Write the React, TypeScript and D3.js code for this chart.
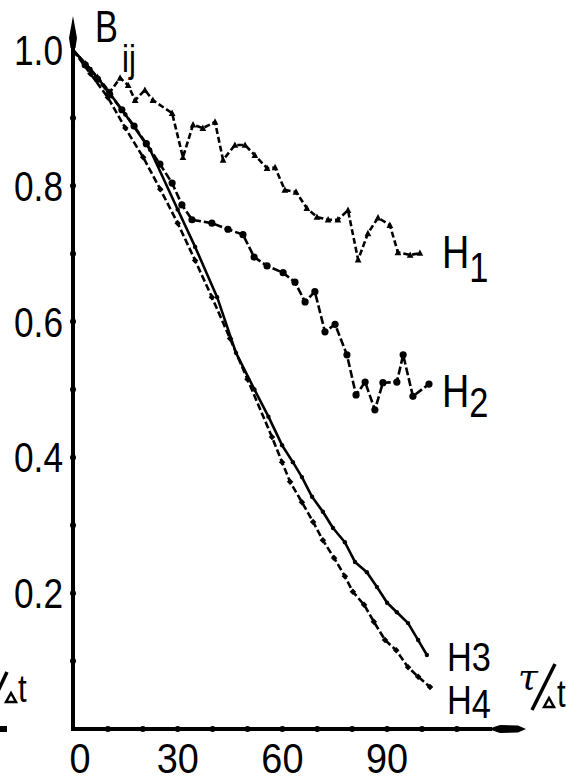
import React from 'react';
import * as d3 from 'd3';

// curve H1 (top, dashed, triangle marks)
const h1T = [0, 3.5, 7, 10.6, 13.5, 15.8, 17.8, 20.6, 22.9, 28.4, 31.5, 34.4, 37.2, 40.7, 43.0, 46.4, 49.3, 52.1, 55.6, 57.9, 60.7, 63.9, 67.0, 69.9, 73.1, 75.9, 78.8, 81.7, 84.5, 87.4, 90.8, 93.1, 96.6, 99.4];
const h1B = [1.0, 0.98, 0.96, 0.938, 0.959, 0.948, 0.926, 0.941, 0.926, 0.907, 0.842, 0.89, 0.885, 0.894, 0.838, 0.86, 0.86, 0.845, 0.826, 0.827, 0.794, 0.791, 0.767, 0.754, 0.75, 0.75, 0.764, 0.691, 0.73, 0.753, 0.742, 0.702, 0.698, 0.701];

// curve H2 (dashed, big dots)
const h2T = [0, 3.5, 7, 10.5, 14, 17.5, 21, 24.9, 28.4, 31.2, 34.1, 39.8, 44.4, 48.7, 51.9, 55.6, 60.2, 63.6, 66.5, 69.3, 72.2, 75.1, 78.5, 81.1, 83.7, 86.5, 88.8, 92.8, 94.6, 97.4, 102];
const h2B = [1.0, 0.978, 0.957, 0.935, 0.912, 0.888, 0.862, 0.832, 0.804, 0.772, 0.75, 0.745, 0.736, 0.728, 0.695, 0.682, 0.672, 0.658, 0.629, 0.644, 0.585, 0.596, 0.551, 0.492, 0.511, 0.47, 0.51, 0.511, 0.551, 0.49, 0.508];

// curve H3 (solid, small dots)
const h3T = [0, 5, 10, 15, 22.1, 30, 35, 41.3, 46.7, 52, 56, 59.9, 63.0, 65.6, 68.5, 71.6, 74.5, 77.9, 80.8, 84.2, 87.1, 90, 92.8, 96, 98.9, 101.4];
const h3B = [1.0, 0.972, 0.94, 0.905, 0.853, 0.765, 0.71, 0.636, 0.554, 0.5, 0.46, 0.418, 0.393, 0.371, 0.342, 0.32, 0.296, 0.275, 0.246, 0.231, 0.209, 0.186, 0.172, 0.156, 0.131, 0.109];

// curve H4 (dashed, small marks)
const h4T = [0, 5, 10, 15, 20.1, 25, 30, 35, 39.8, 45, 50, 57, 59.9, 62.2, 65.6, 68.8, 71.6, 74.8, 77.9, 80.2, 83.4, 86.2, 89.4, 92.6, 96, 98.9, 102.3];
const h4B = [1.0, 0.965, 0.93, 0.885, 0.842, 0.795, 0.745, 0.69, 0.636, 0.575, 0.515, 0.43, 0.393, 0.364, 0.334, 0.305, 0.278, 0.252, 0.225, 0.202, 0.183, 0.158, 0.131, 0.116, 0.091, 0.077, 0.062];

const yLabels = ['0.2', '0.4', '0.6', '0.8', '1.0'];
const xLabels = ['0', '30', '60', '90'];

const FONT = "'Liberation Sans', Arial, sans-serif";

// narrow lettering: plain sans squeezed horizontally
const T: React.FC<{ x: number; y: number; size: number; anchor?: string; sx?: number; children: React.ReactNode }> = ({ x, y, size, anchor = 'start', sx = 0.82, children }) => (
  <text transform={`translate(${x},${y}) scale(${sx},1)`} fontFamily={FONT} fontSize={size} textAnchor={anchor} fill="#000">
    {children}
  </text>
);

const App: React.FC = () => {
  const width = 588;
  const height = 783;

  const x = d3.scaleLinear().domain([0, 100]).range([73, 422]);
  const y = d3.scaleLinear().domain([0, 1]).range([729, 50]);

  const toPts = (ts: number[], bs: number[]) => ts.map((t, i) => [t, bs[i]] as [number, number]);
  const line = d3.line<[number, number]>().x(d => x(d[0])).y(d => y(d[1]));

  const series = [
    { pts: toPts(h1T, h1B), dash: '6,3', mark: 'tri', r: 2.8 },
    { pts: toPts(h2T, h2B), dash: '8,3', mark: 'dot', r: 3.6 },
    { pts: toPts(h3T, h3B), dash: '', mark: 'dot', r: 2.2 },
    { pts: toPts(h4T, h4B), dash: '7,3', mark: 'sq', r: 2.3 },
  ];

  const yTicks = d3.range(1, 10).map(i => i / 10);
  const xTicks = d3.range(10, 120, 10);

  return (
    <svg width={width} height={height} style={{ position: 'absolute', left: 0, top: 0, background: '#fff' }}>
      {/* axes */}
      <line x1={x(0)} y1={y(0)} x2={x(0)} y2={34} stroke="#000" strokeWidth={4} />
      <path d={`M${x(0)},16 L${x(0) + 4},38 L${x(0) + 2.5},48 L${x(0) - 2.5},48 L${x(0) - 4},38 Z`} fill="#000" />
      <line x1={x(0) - 2} y1={y(0)} x2={492} y2={y(0)} stroke="#000" strokeWidth={4} />
      <path d={`M488,${y(0)} L500,${y(0) - 4} L518,${y(0) - 3.5} L526,${y(0)} L518,${y(0) + 3.5} L500,${y(0) + 4} Z`} fill="#000" />

      {yTicks.map(t => (
        <circle key={'yt' + t} cx={x(0)} cy={y(t)} r={3} fill="#000" />
      ))}
      {xTicks.map(t => (
        <circle key={'xt' + t} cx={x(t)} cy={y(0)} r={3} fill="#000" />
      ))}

      {yLabels.map(l => (
        <T key={'yl' + l} x={63} y={y(+l) + 15} size={43} anchor="end">{l}</T>
      ))}
      {xLabels.map((l, i) => (
        <T key={'xl' + l} x={x(+l) + (i === 0 ? 7 : 0)} y={773} size={43} anchor="middle" sx={0.88}>{l}</T>
      ))}

      {/* axis titles */}
      <T x={95} y={42} size={44} sx={0.78}>B</T>
      <T x={122} y={72} size={38}>ij</T>

      <text x={518} y={689} fontFamily="'DejaVu Serif', serif" fontStyle="italic" fontSize={36}>τ</text>
      <line x1={555} y1={664} x2={532} y2={710} stroke="#000" strokeWidth={3.5} />
      <path d="M544,707 L549,698 L554,707 Z" fill="none" stroke="#000" strokeWidth={2.5} />
      <T x={557} y={707} size={38}>t</T>

      {/* cut-off label at left edge */}
      <line x1={7} y1={672} x2={-8} y2={704} stroke="#000" strokeWidth={3.5} />
      <path d="M6,702 L11,693 L16,702 Z" fill="none" stroke="#000" strokeWidth={2.5} />
      <T x={18} y={702} size={38}>t</T>
      <rect x={0} y={y(0) - 3} width={7} height={6} fill="#000" />

      {/* curves */}
      {series.map((s, si) => (
        <g key={'s' + si}>
          <path d={line(s.pts) || ''} fill="none" stroke="#000" strokeWidth={2.6} strokeDasharray={s.dash} strokeLinejoin="round" />
          {s.pts.slice(1).map((p, i) => {
            const cx = x(p[0]);
            const cy = y(p[1]);
            if (s.mark === 'tri') {
              return <path key={i} d={`M${cx},${cy - s.r * 1.3} L${cx + s.r * 1.2},${cy + s.r} L${cx - s.r * 1.2},${cy + s.r} Z`} fill="#000" />;
            }
            if (s.mark === 'sq') {
              return <rect key={i} x={cx - s.r} y={cy - s.r} width={s.r * 2} height={s.r * 2} fill="#000" transform={`rotate(45 ${cx} ${cy})`} />;
            }
            return <circle key={i} cx={cx} cy={cy} r={s.r} fill="#000" />;
          })}
        </g>
      ))}

      {/* curve labels */}
      <T x={442} y={268} size={46}>H<tspan fontSize={42} dy={14}>1</tspan></T>
      <T x={442} y={407} size={46}>H<tspan fontSize={42} dy={10}>2</tspan></T>
      <T x={447} y={671} size={40} sx={0.86}>H3</T>
      <T x={447} y={714} size={40} sx={0.86}>H<tspan dy={4}>4</tspan></T>
    </svg>
  );
};

export default App;
